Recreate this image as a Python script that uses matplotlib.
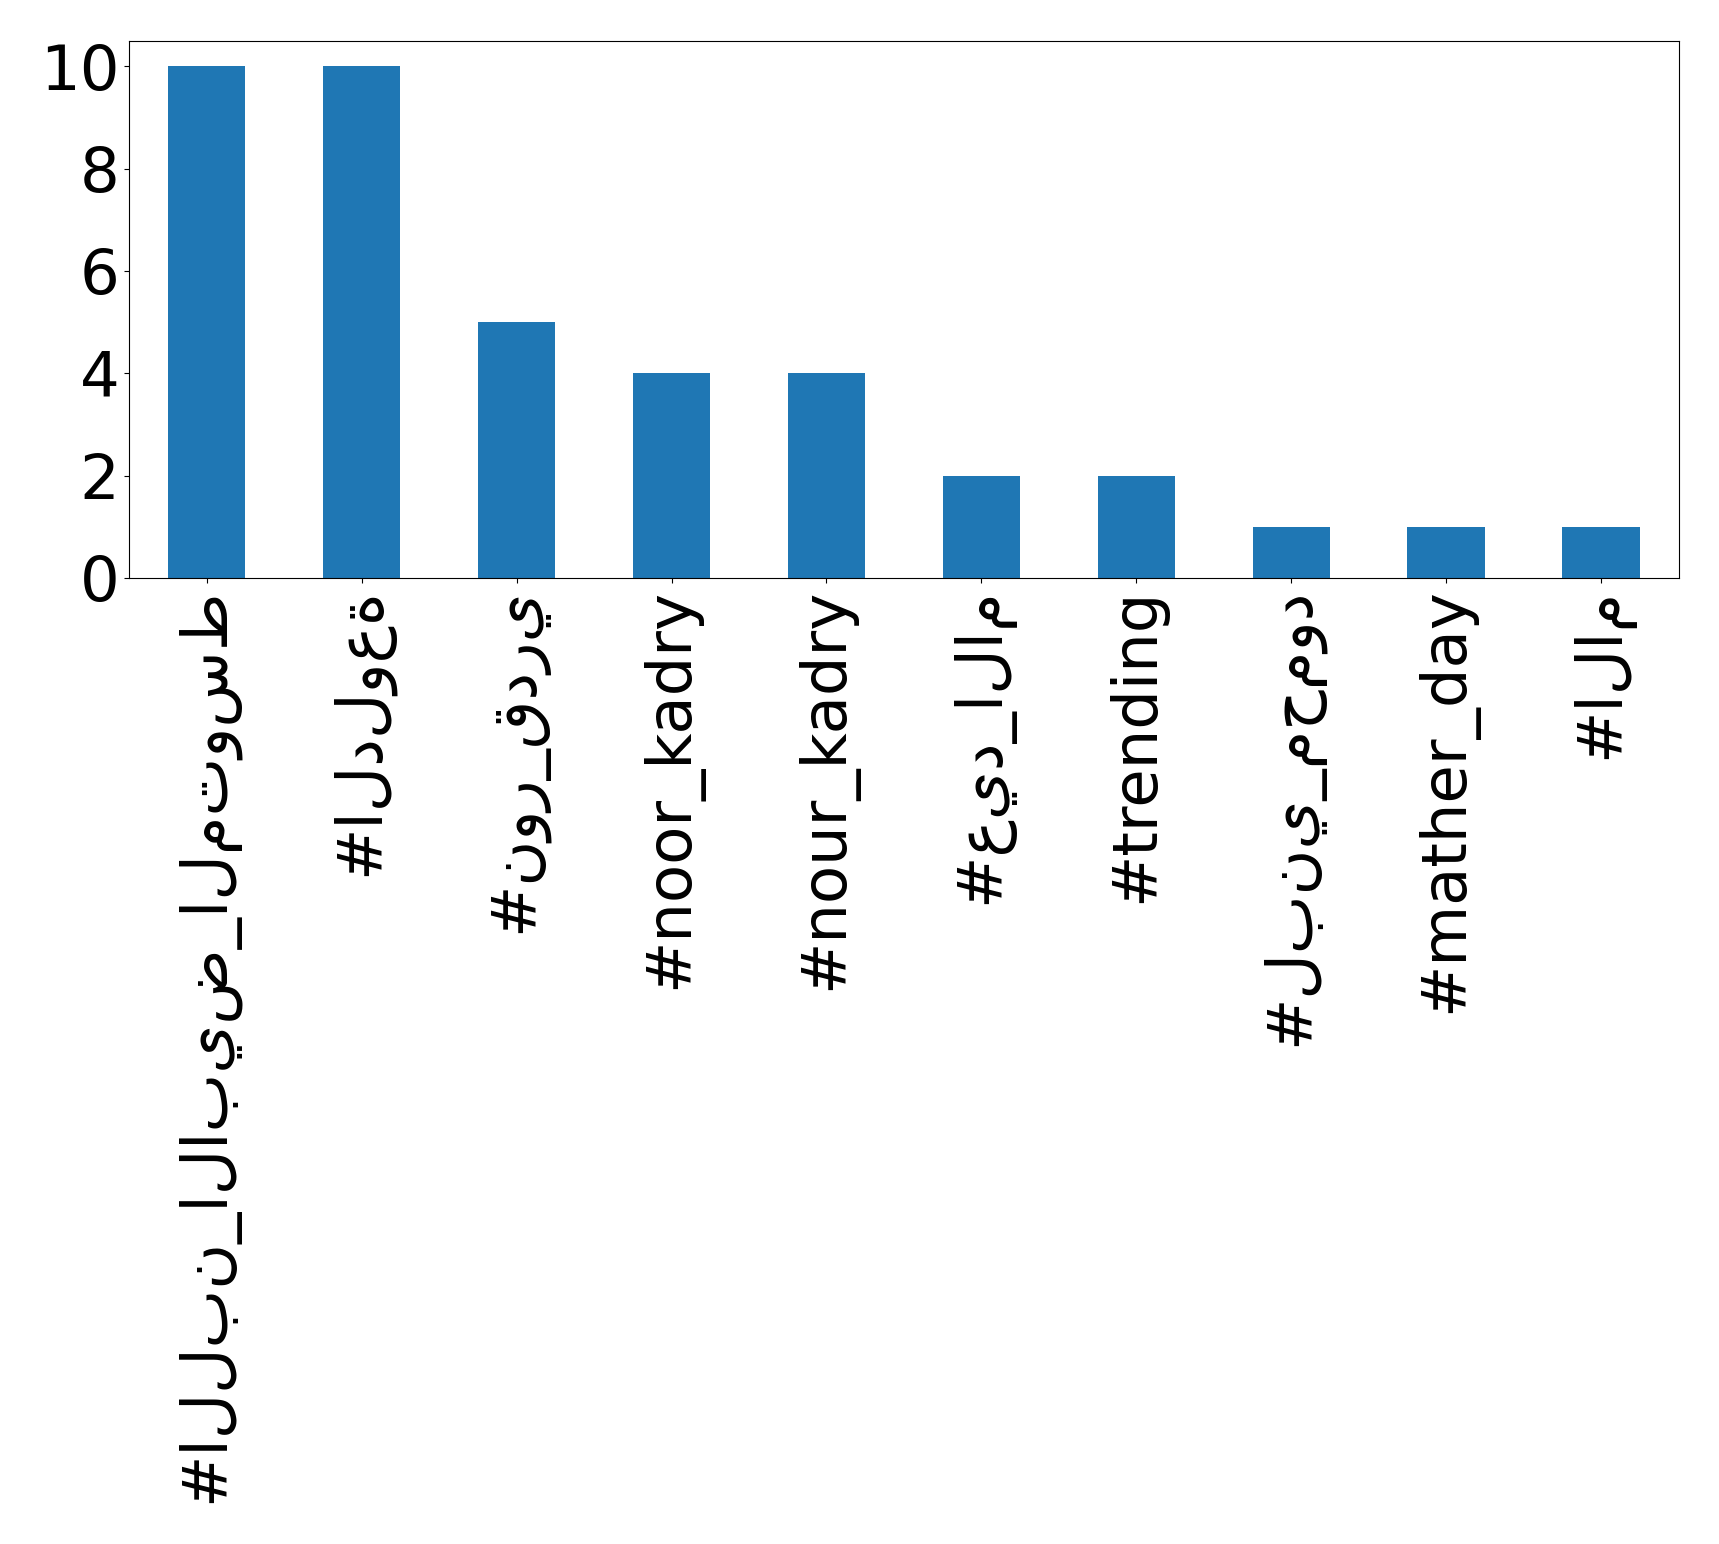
import matplotlib
matplotlib.use("Agg")
import matplotlib.pyplot as plt
import pandas as pd

hashtags = ["#اللبن_الابيض_المتوسط", "#الدلوعة", "#نور_قدري", "#noor_kadry", "#nour_kadry",
            "#عيد_الام", "#trending", "#لبني_محمود", "#mather_day", "#الام"]
counts = [10, 10, 5, 4, 4, 2, 2, 1, 1, 1]

s = pd.Series(counts, index=hashtags)

fig = plt.figure(figsize=(17.19, 15.44), dpi=100)
ax = fig.add_axes([0.0752, 0.6257, 0.9013, 0.348])
s.plot(kind="bar", ax=ax, color="#1f77b4", width=0.5)
ax.set_ylim(0, 10.5)
ax.set_yticks([0, 2, 4, 6, 8, 10])
ax.tick_params(axis="both", labelsize=45)
plt.setp(ax.get_xticklabels(), rotation=90)

fig.savefig("out.png", dpi=100)
